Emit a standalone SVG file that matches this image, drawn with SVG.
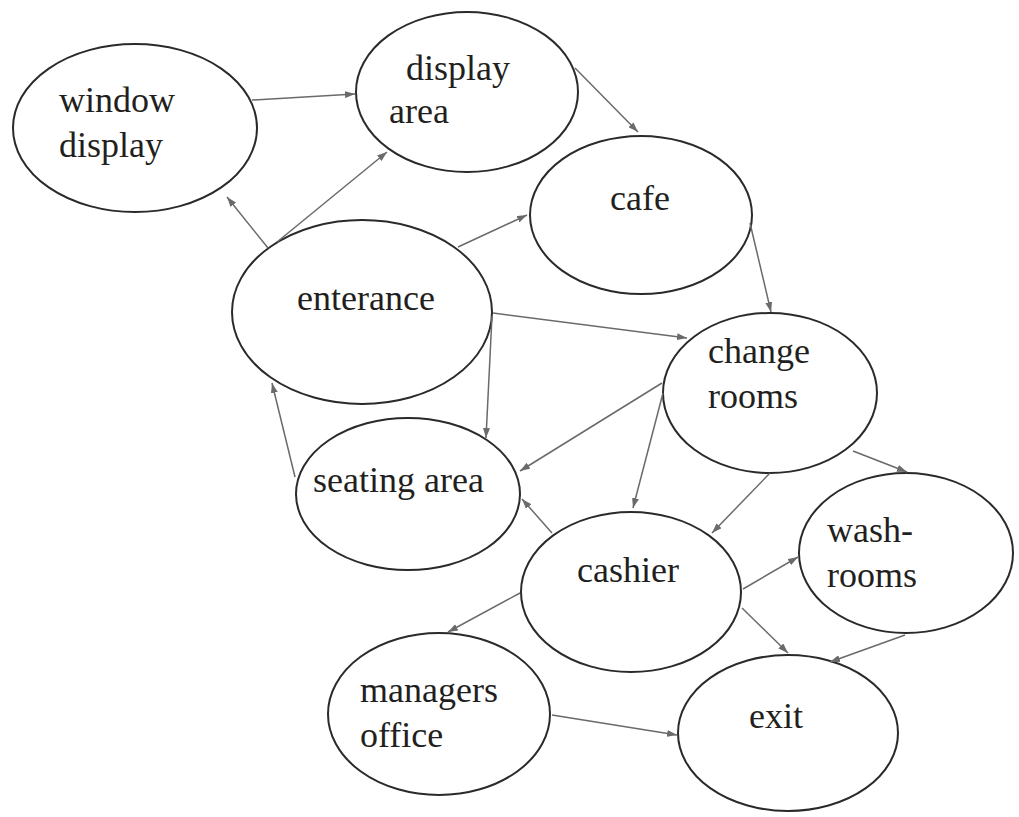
<svg xmlns="http://www.w3.org/2000/svg" width="1019" height="817" viewBox="0 0 1019 817">
<style>
.n ellipse{fill:#fff;stroke:#2a2a2a;stroke-width:2}
.n text{font-family:"Liberation Serif","Times New Roman",serif;font-size:36px;fill:#231f20}
.e line{stroke:#6a6a6a;stroke-width:1.5;marker-end:url(#ah)}
</style>
<defs>
<marker id="ah" markerUnits="userSpaceOnUse" markerWidth="10" markerHeight="7" refX="10" refY="3.5" orient="auto">
<path d="M0,0 L10,3.5 L0,7 z" fill="#6a6a6a"/>
</marker>
</defs>
<rect width="1019" height="817" fill="#fff"/>
<g class="n" id="window-display"><ellipse cx="135" cy="128" rx="122" ry="84"/><text x="59" y="112">window</text><text x="59" y="157">display</text></g>
<g class="n" id="display-area"><ellipse cx="467" cy="92" rx="111" ry="80"/><text x="406" y="80">display</text><text x="389" y="123">area</text></g>
<g class="n" id="cafe"><ellipse cx="641" cy="215" rx="111" ry="79"/><text x="610" y="210">cafe</text></g>
<g class="n" id="enterance"><ellipse cx="362" cy="312" rx="130" ry="92"/><text x="297" y="310">enterance</text></g>
<g class="n" id="change-rooms"><ellipse cx="770" cy="393" rx="107" ry="80"/><text x="708" y="363">change</text><text x="708" y="408">rooms</text></g>
<g class="n" id="seating-area"><ellipse cx="408" cy="494" rx="112" ry="76"/><text x="313" y="492">seating area</text></g>
<g class="n" id="cashier"><ellipse cx="631" cy="592" rx="110" ry="80"/><text x="577" y="582">cashier</text></g>
<g class="n" id="wash-rooms"><ellipse cx="906" cy="553" rx="107" ry="80"/><text x="827" y="542">wash-</text><text x="827" y="587">rooms</text></g>
<g class="n" id="managers-office"><ellipse cx="439" cy="714" rx="111" ry="81"/><text x="360" y="702">managers</text><text x="360" y="747">office</text></g>
<g class="n" id="exit"><ellipse cx="788" cy="733" rx="110" ry="78"/><text x="749" y="728">exit</text></g>
<g class="e" id="connectors">
<line x1="252" y1="100" x2="355" y2="94"/>
<line x1="575" y1="68" x2="638" y2="132"/>
<line x1="268" y1="248" x2="227" y2="197"/>
<line x1="277" y1="242" x2="387" y2="152"/>
<line x1="458" y1="247" x2="527" y2="215"/>
<line x1="750" y1="223" x2="771" y2="312"/>
<line x1="493" y1="313" x2="687" y2="338"/>
<line x1="492" y1="316" x2="486" y2="438"/>
<line x1="295" y1="477" x2="272" y2="383"/>
<line x1="662" y1="383" x2="520" y2="471"/>
<line x1="663" y1="393" x2="633" y2="508"/>
<line x1="770" y1="473" x2="712" y2="533"/>
<line x1="853" y1="451" x2="907" y2="472"/>
<line x1="552" y1="533" x2="522" y2="499"/>
<line x1="743" y1="589" x2="798" y2="557"/>
<line x1="520" y1="593" x2="448" y2="632"/>
<line x1="742" y1="608" x2="788" y2="653"/>
<line x1="905" y1="635" x2="830" y2="662"/>
<line x1="552" y1="715" x2="677" y2="735"/>
</g>
</svg>
